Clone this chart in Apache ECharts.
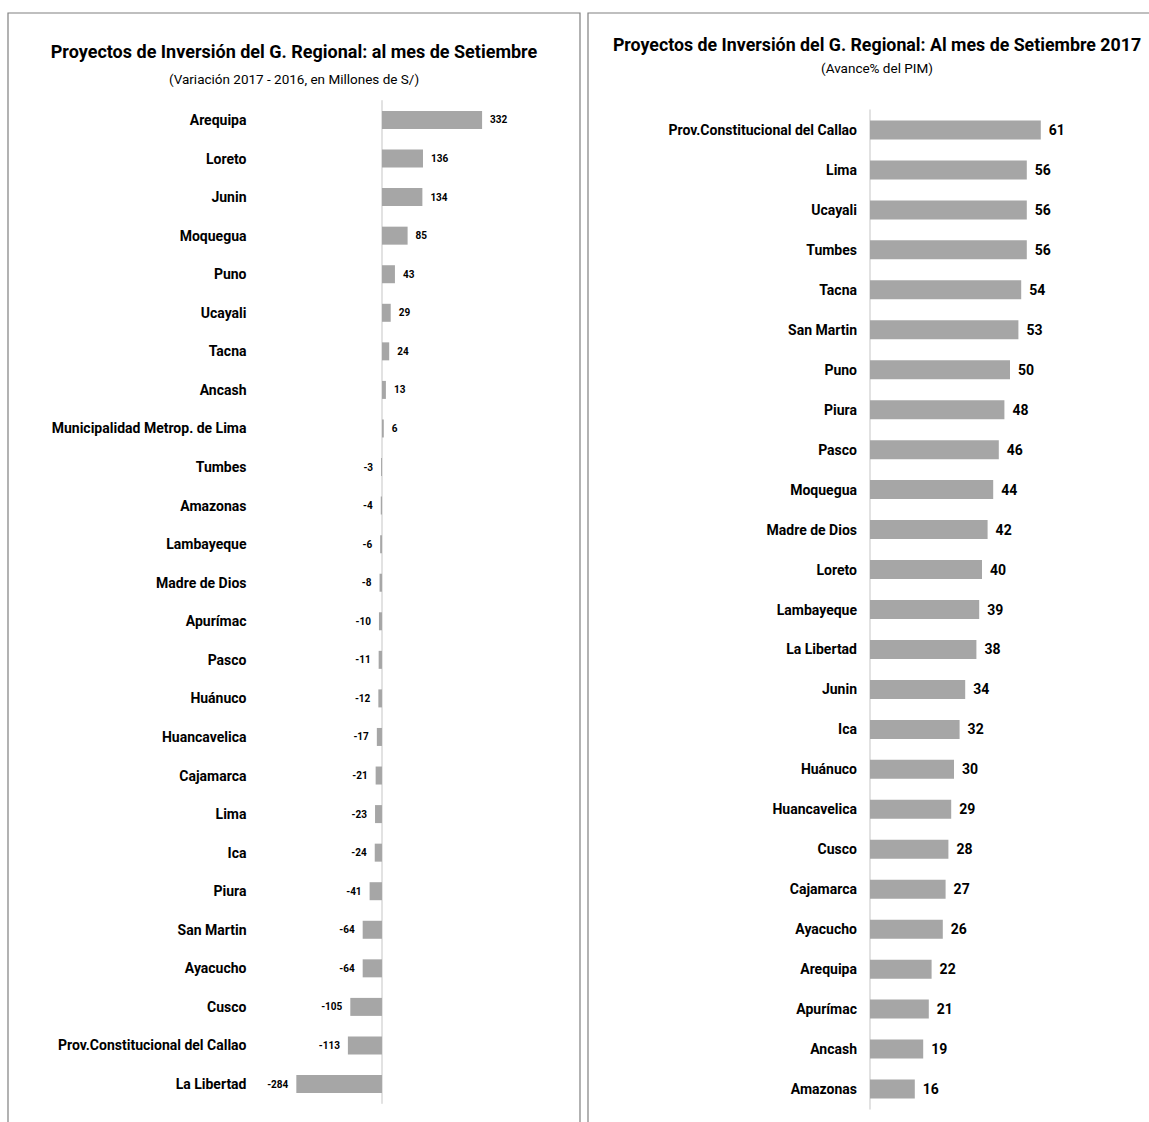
<!DOCTYPE html>
<html>
<head>
<meta charset="utf-8">
<script src="https://cdn.jsdelivr.net/npm/echarts@6/dist/echarts.min.js"></script>
<style>
  html, body { margin: 0; padding: 0; background: #fff; }
  #chart { width: 1149px; height: 1122px; }
</style>
</head>
<body>
<div id="chart"></div>
<script>
// variación 2017 - 2016 (millones de S/)
const varCategories = ['Arequipa', 'Loreto', 'Junin', 'Moquegua', 'Puno', 'Ucayali', 'Tacna', 'Ancash',
  'Municipalidad Metrop. de Lima', 'Tumbes', 'Amazonas', 'Lambayeque', 'Madre de Dios', 'Apurímac',
  'Pasco', 'Huánuco', 'Huancavelica', 'Cajamarca', 'Lima', 'Ica', 'Piura', 'San Martin', 'Ayacucho',
  'Cusco', 'Prov.Constitucional del Callao', 'La Libertad']
const varValues = [332, 136, 134, 85, 43, 29, 24, 13, 6, -3, -4, -6, -8, -10, -11, -12, -17, -21, -23,
  -24, -41, -64, -64, -105, -113, -284]

// avance % del PIM
const pimCategories = ['Prov.Constitucional del Callao', 'Lima', 'Ucayali', 'Tumbes', 'Tacna', 'San Martin',
  'Puno', 'Piura', 'Pasco', 'Moquegua', 'Madre de Dios', 'Loreto', 'Lambayeque', 'La Libertad', 'Junin',
  'Ica', 'Huánuco', 'Huancavelica', 'Cusco', 'Cajamarca', 'Ayacucho', 'Arequipa', 'Apurímac', 'Ancash',
  'Amazonas']
const pimValues = [61, 56, 56, 56, 54, 53, 50, 48, 46, 44, 42, 40, 39, 38, 34, 32, 30, 29, 28, 27, 26, 22,
  21, 19, 16]

const FONT = "Roboto, sans-serif"
const BAR = '#a6a6a6'
const AXIS = '#d9d9d9'

const chart = echarts.init(document.getElementById('chart'), null, { renderer: 'svg' })

function txt(text, x, y, size, weight) {
  return {
    type: 'text', x: x, y: y, silent: true,
    style: {
      text: text, fill: '#000', font: weight + ' ' + size + 'px ' + FONT,
      align: 'center', verticalAlign: 'middle', textAlign: 'center', textVerticalAlign: 'middle'
    }
  }
}

const option = {
  animation: false,
  textStyle: { fontFamily: FONT },
  graphic: [
    { type: 'rect', shape: { x: 8, y: 13, width: 572, height: 1130 }, style: { fill: 'none', stroke: '#808080', lineWidth: 1.2 } },
    { type: 'rect', shape: { x: 588, y: 13, width: 600, height: 1130 }, style: { fill: 'none', stroke: '#808080', lineWidth: 1.2 } },
    txt('Proyectos de Inversión del G. Regional: al mes de Setiembre', 294, 51, 18, 'bold'),
    txt('(Variación 2017 - 2016, en Millones de S/)', 294, 79, 13.5, 'normal'),
    txt('Proyectos de Inversión del G. Regional: Al mes de Setiembre 2017', 877, 44, 17.8, 'bold'),
    txt('(Avance% del PIM)', 877, 68, 13.5, 'normal')
  ],
  grid: [
    { left: 291.5, right: 646.4, top: 100.7, height: 1002.6, containLabel: false, outerBoundsMode: 'none' },
    { left: 870, right: 83, top: 110, height: 999, containLabel: false, outerBoundsMode: 'none' }
  ],
  xAxis: [
    { gridIndex: 0, type: 'value', min: -300, max: 400, show: false },
    { gridIndex: 1, type: 'value', min: 0, max: 70, show: false }
  ],
  yAxis: [
    {
      gridIndex: 0, type: 'category', inverse: true, data: varCategories,
      axisLine: { onZero: true, lineStyle: { color: AXIS, width: 1.5 } },
      axisTick: { show: false },
      axisLabel: { margin: 45, color: '#000', fontWeight: 'bold', fontSize: 14, fontFamily: FONT }
    },
    {
      gridIndex: 1, type: 'category', inverse: true, data: pimCategories,
      axisLine: { lineStyle: { color: AXIS, width: 1.5 } },
      axisTick: { show: false },
      axisLabel: { margin: 13, color: '#000', fontWeight: 'bold', fontSize: 14, fontFamily: FONT }
    }
  ],
  series: [
    {
      type: 'bar', xAxisIndex: 0, yAxisIndex: 0, barWidth: 18,
      itemStyle: { color: BAR },
      data: varValues.map(v => ({ value: v, label: { position: v < 0 ? 'left' : 'right' } })),
      label: { show: true, distance: 8, color: '#000', fontWeight: 'bold', fontSize: 10, fontFamily: FONT }
    },
    {
      type: 'bar', xAxisIndex: 1, yAxisIndex: 1, barWidth: 19,
      itemStyle: { color: BAR },
      data: pimValues,
      label: { show: true, position: 'right', distance: 8, color: '#000', fontWeight: 'bold', fontSize: 14, fontFamily: FONT }
    }
  ]
}

chart.setOption(option)
</script>
</body>
</html>
